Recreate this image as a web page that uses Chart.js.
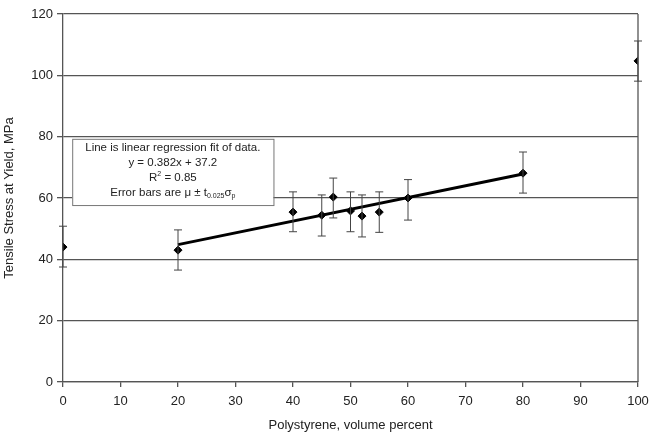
<!DOCTYPE html>
<html lang="en">
<head>
    <meta charset="UTF-8">
    <title>Tensile Stress vs Polystyrene</title>
    <script src="https://cdn.jsdelivr.net/npm/chart.js"></script>
    <style>
        body {
            margin: 0;
            padding: 0;
            background: #fff;
        }
        #wrap {
            width: 650px;
            height: 442px;
        }
    </style>
</head>
<body>
    <div id="wrap">
        <canvas id="stressChart" width="650" height="442"></canvas>
    </div>

    <script>
        const polystyrene = [0, 20, 40, 45, 47, 50, 52, 55, 60, 80, 100];
        const stress = [44.0, 43.0, 55.4, 54.4, 60.3, 55.8, 54.1, 55.4, 60.0, 68.1, 104.7];
        const errLow = [37.5, 36.5, 49.0, 47.6, 53.5, 49.0, 47.3, 48.8, 52.8, 61.6, 98.1];
        const errHigh = [50.8, 49.6, 62.0, 61.0, 66.5, 62.0, 61.0, 62.0, 66.0, 75.0, 111.2];

        // regression line end points
        const fitX = [20, 80];
        const fitY = [44.8, 67.8];

        const xTicks = [0, 10, 20, 30, 40, 50, 60, 70, 80, 90, 100];
        const yTicks = [0, 20, 40, 60, 80, 100, 120];

        const FONT = "Arial, 'Liberation Sans', sans-serif";

        // error bars, right border and the text box
        const extrasPlugin = {
            id: 'extras',
            afterDatasetsDraw(chart) {
                const ctx = chart.ctx;
                const xs = chart.scales.x;
                const ys = chart.scales.y;
                const area = chart.chartArea;

                // right border line
                ctx.save();
                ctx.strokeStyle = '#555';
                ctx.lineWidth = 1.3;
                ctx.beginPath();
                ctx.moveTo(area.right, area.top);
                ctx.lineTo(area.right, area.bottom);
                ctx.stroke();

                // error bars
                ctx.strokeStyle = '#444';
                ctx.lineWidth = 1;
                for (let i = 0; i < polystyrene.length; i++) {
                    const px = xs.getPixelForValue(polystyrene[i]);
                    const lo = ys.getPixelForValue(errLow[i]);
                    const hi = ys.getPixelForValue(errHigh[i]);
                    ctx.beginPath();
                    ctx.moveTo(px, lo);
                    ctx.lineTo(px, hi);
                    ctx.moveTo(px - 4, lo);
                    ctx.lineTo(px + 4, lo);
                    ctx.moveTo(px - 4, hi);
                    ctx.lineTo(px + 4, hi);
                    ctx.stroke();
                }

                // annotation box
                const bx1 = xs.getPixelForValue(1.6);
                const bx2 = xs.getPixelForValue(36.6);
                const by1 = ys.getPixelForValue(79.3);
                const by2 = ys.getPixelForValue(57.7);
                ctx.fillStyle = '#fff';
                ctx.fillRect(bx1, by1, bx2 - bx1, by2 - by1);
                ctx.strokeStyle = '#777';
                ctx.lineWidth = 1;
                ctx.strokeRect(bx1 + 0.5, by1 + 0.5, bx2 - bx1, by2 - by1);

                const big = '11.5px ' + FONT;
                const small = '7px ' + FONT;
                const cx = (bx1 + bx2) / 2;
                ctx.fillStyle = '#222';
                ctx.textBaseline = 'middle';
                ctx.font = big;
                ctx.textAlign = 'center';
                ctx.fillText('Line is linear regression fit of data.', cx, by1 + 9);
                ctx.fillText('y = 0.382x + 37.2', cx, by1 + 24);

                // R squared with superscript
                const r1 = 'R', r2 = ' = 0.85';
                const w1 = ctx.measureText(r1).width;
                const w2 = ctx.measureText(r2).width;
                const wsup = 4;
                let sx = cx - (w1 + wsup + w2) / 2;
                ctx.textAlign = 'left';
                ctx.fillText(r1, sx, by1 + 39);
                ctx.font = small;
                ctx.fillText('2', sx + w1, by1 + 35);
                ctx.font = big;
                ctx.fillText(r2, sx + w1 + wsup, by1 + 39);

                // error bar definition with subscripts
                const e1 = 'Error bars are \u03bc \u00b1 t';
                const e2 = '0.025';
                const e3 = '\u03c3';
                const e4 = 'p';
                ctx.font = big;
                const we1 = ctx.measureText(e1).width;
                const we3 = ctx.measureText(e3).width;
                ctx.font = small;
                const we2 = ctx.measureText(e2).width;
                const we4 = ctx.measureText(e4).width;
                sx = cx - (we1 + we2 + we3 + we4) / 2;
                const ey = by1 + 54;
                ctx.font = big;
                ctx.fillText(e1, sx, ey);
                ctx.font = small;
                ctx.fillText(e2, sx + we1, ey + 3);
                ctx.font = big;
                ctx.fillText(e3, sx + we1 + we2, ey);
                ctx.font = small;
                ctx.fillText(e4, sx + we1 + we2 + we3, ey + 3);
                ctx.restore();
            }
        };

        const ctx = document.getElementById('stressChart').getContext('2d');
        new Chart(ctx, {
            type: 'scatter',
            data: {
                datasets: [
                    {
                        label: 'Fit',
                        type: 'line',
                        data: fitX.map((x, i) => ({ x: x, y: fitY[i] })),
                        borderColor: '#000',
                        borderWidth: 3,
                        pointRadius: 0,
                        fill: false,
                        order: 2
                    },
                    {
                        label: 'Data',
                        data: polystyrene.map((x, i) => ({ x: x, y: stress[i] })),
                        backgroundColor: '#000',
                        borderColor: '#000',
                        pointStyle: 'rectRot',
                        pointRadius: 4,
                        order: 1
                    }
                ]
            },
            options: {
                responsive: false,
                animation: false,
                layout: {
                    padding: { top: 14, right: 12, left: 0, bottom: 0 }
                },
                plugins: {
                    legend: { display: false },
                    tooltip: { enabled: false }
                },
                scales: {
                    x: {
                        type: 'linear',
                        min: 0,
                        max: 100,
                        afterBuildTicks: s => { s.ticks = xTicks.map(v => ({ value: v })); },
                        ticks: {
                            color: '#222',
                            font: { family: FONT, size: 13 },
                            padding: 7,
                            maxRotation: 0
                        },
                        grid: {
                            drawOnChartArea: false,
                            drawTicks: true,
                            tickLength: 5,
                            color: '#555',
                            lineWidth: 1.3
                        },
                        border: { color: '#555', width: 1.3 },
                        title: {
                            display: true,
                            text: 'Polystyrene, volume percent',
                            color: '#222',
                            font: { family: FONT, size: 13 },
                            padding: { top: 4, bottom: 9 }
                        },
                        afterFit: s => {
                            s.height = 60;
                            s.paddingLeft = 0;
                            s.paddingRight = 0;
                        }
                    },
                    y: {
                        type: 'linear',
                        min: 0,
                        max: 120,
                        afterBuildTicks: s => { s.ticks = yTicks.map(v => ({ value: v })); },
                        ticks: {
                            color: '#222',
                            font: { family: FONT, size: 13 },
                            padding: 4
                        },
                        grid: {
                            drawTicks: true,
                            tickLength: 6,
                            color: '#555',
                            lineWidth: 1.3
                        },
                        border: { color: '#555', width: 1.3 },
                        title: {
                            display: true,
                            text: 'Tensile Stress at Yield, MPa',
                            color: '#222',
                            font: { family: FONT, size: 13 },
                            padding: { top: 2, bottom: 4 }
                        },
                        afterFit: s => { s.width = 63; }
                    }
                }
            },
            plugins: [extrasPlugin]
        });
    </script>
</body>
</html>
